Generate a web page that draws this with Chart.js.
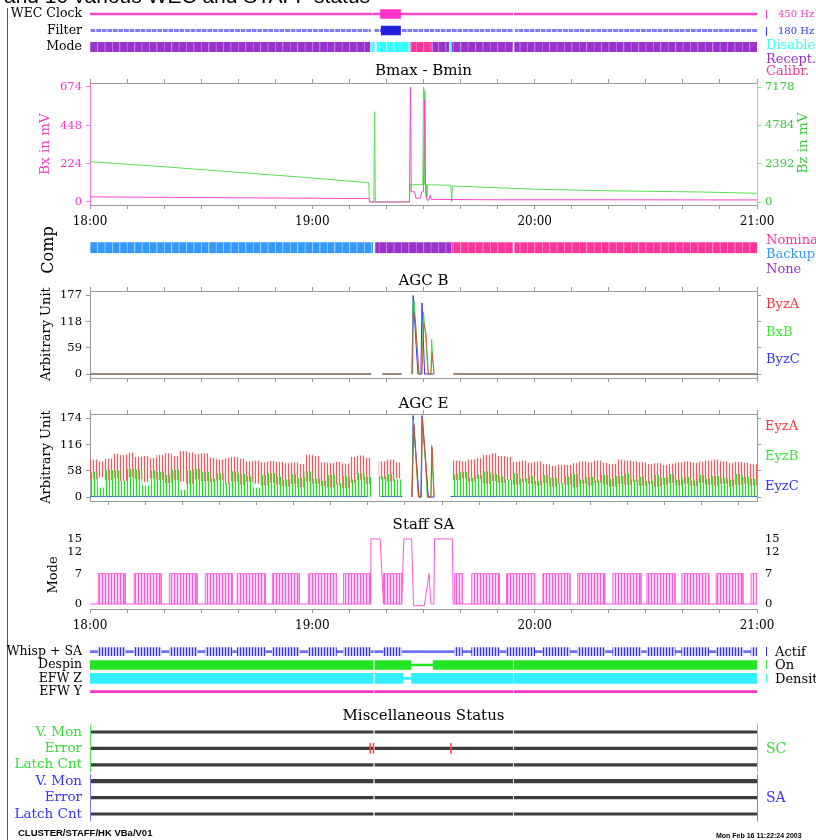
<!DOCTYPE html>
<html>
<head>
<meta charset="utf-8">
<title>STAFF HK</title>
<script src="https://cdn.jsdelivr.net/npm/chart.js@4.4.0/dist/chart.umd.min.js"></script>
<style>
  body { margin: 0; background: #fff; }
  #page { position: relative; width: 816px; height: 840px; overflow: hidden; background: #fff; }
  #page canvas { position: absolute; left: 0; }
  .lbl { position: absolute; white-space: nowrap; line-height: 1; font-family: "DejaVu Serif", serif; }
  #frame { position: absolute; left: 7px; top: 8px; width: 1px; height: 832px; background: #555; }
</style>
</head>
<body>
<div id="page">
  <div id="frame"></div>
  <canvas id="cTop" width="816" height="62" style="top:0px"></canvas>
  <canvas id="cBmax" width="816" height="165" style="top:70px"></canvas>
  <canvas id="cComp" width="816" height="24" style="top:236px"></canvas>
  <canvas id="cAgcB" width="816" height="105" style="top:281px"></canvas>
  <canvas id="cAgcE" width="816" height="105" style="top:404px"></canvas>
  <canvas id="cSA" width="816" height="116" style="top:523px"></canvas>
  <canvas id="cBot" width="816" height="64" style="top:640px"></canvas>
  <canvas id="cMisc" width="816" height="110" style="top:718px"></canvas>
</div>
<script>
const SERIF = '"DejaVu Serif", "Liberation Serif", serif';

// time axis: minutes after 18:00
const hourLabels = ['18:00', '19:00', '20:00', '21:00'];
const minorTicks = [0, 10, 20, 30, 40, 50, 60, 70, 80, 90, 100, 110, 120, 130, 140, 150, 160, 170, 180];

// WEC clock / filter / mode
const topRows = ['WEC Clock', 'Filter', 'Mode'];
const wecClockOn = [[0, 76.0], [76.3, 114.1], [114.5, 180]];
const wecClock450 = [[78.4, 83.8]];
const filterOn = [[0, 75.8], [76.6, 114.1], [114.5, 180]];
const filter180 = [[78.6, 83.8]];
const modeSegs = [[0, 75.7, 'Recept.'], [75.7, 76.8, 'Disable'], [77.3, 86.5, 'Disable'], [86.5, 92.4, 'Calibr.'],
  [92.4, 97.0, 'Recept.'], [97.0, 97.6, 'Disable'], [97.6, 114.1, 'Recept.'], [114.5, 180, 'Recept.']];

// Bmax - Bmin
const bxTicks = [0, 224, 448, 674];
const bzTicks = [0, 2392, 4784, 7178];
const bxData = [[0, 30], [15, 28], [30, 26], [45, 24], [60, 22], [75.4, 20], [75.6, 0], [86.2, 0], [86.5, 674], [86.7, 60],
  [87.6, 60], [87.9, 22], [89.2, 22], [89.5, 60], [90.0, 60], [90.3, 598], [90.6, 40], [91.0, 10], [91.5, 12], [91.8, 41],
  [92.1, 15], [110, 13], [140, 13], [180, 12]];
const bzData = [[0, 2515], [20, 2200], [40, 1850], [60, 1500], [75.2, 1200], [75.4, 0], [76.6, 0], [76.8, 5640], [77.0, 0],
  [86.2, 0], [86.4, 1080], [89.8, 1080], [90.0, 7178], [90.2, 6900], [90.4, 1080], [90.7, 1080], [90.9, 300], [91.1, 1080],
  [97.4, 1040], [97.6, 0], [97.8, 1000], [120, 800], [138, 706], [165, 624], [180, 543]];

// Comp
const compSegs = [[0, 76.4, 'Backup'], [76.9, 97.6, 'None'], [97.6, 114.1, 'Nominal'], [114.5, 180, 'Nominal']];

// AGC B
const agcBTicks = [0, 59, 118, 177];
const byzA = [[0, 0], [75.9, 0], [77, null], [78.9, 0], [84.1, 0], [85, null], [86.9, 0], [87.3, 140], [87.8, 120], [88.8, 0],
  [89.6, 0], [90.1, 115], [90.7, 90], [91.3, 0], [92.0, 0], [92.3, 47], [92.9, 0], [95, null], [98.1, 0], [180, 0]];
const bxB = [[0, 0], [75.9, 0], [77, null], [78.9, 0], [84.1, 0], [85, null], [86.9, 0], [87.1, 150], [87.5, 165], [88.7, 0],
  [89.5, 0], [90.0, 140], [90.6, 80], [91.2, 0], [92.0, 0], [92.2, 78], [92.8, 0], [95, null], [98.1, 0], [180, 0]];
const byzC = [[0, 0], [75.9, 0], [77, null], [78.9, 0], [84.1, 0], [85, null], [86.9, 0], [87.2, 177], [88.5, 0], [89.3, 0],
  [89.6, 160], [90.3, 0], [92.8, 0], [95, null], [98.1, 0], [180, 0]];

// AGC E (one value pair every 2 min: upper and lower end of the strokes)
const agcETicks = [0, 58, 116, 174];
const eyzATop = [82, 78, 84, 95, 92, 97, 88, 90, 85, 92, 96, 90, 101, 98, 94, 96, 86, 82, 85, 88,
  84, 78, 80, 76, 79, 77, 74, 76, 72, 93, 90, 76, 74, 77, 73, 88, 91, 86, null, 78,
  82, 76, null, null, null, null, null, null, null, 80, 78, 82, 85, 92, 96, 90, 88, 77, 80, 75,
  78, 72, 68, 71, 70, 74, 78, 76, 80, 75, 72, 82, 80, 78, 76, 72, 74, 70, 73, 76,
  78, 75, 77, 80, 82, 78, 74, 77, 75, 72];
const eyzALow = [40, 44, 38, 42, 36, 45, 40, 34, 42, 38, 32, 38, 35, 30, 40, 36, 33, 38, 30, 35,
  28, 34, 30, 26, 32, 28, 24, 30, 22, 35, 30, 25, 22, 28, 20, 32, 38, 30, null, 40,
  35, 42, null, null, null, null, null, null, null, 38, 42, 35, 40, 30, 36, 32, 38, 28, 34, 30,
  26, 32, 24, 30, 28, 22, 30, 26, 32, 28, 24, 30, 28, 34, 26, 30, 24, 28, 32, 26,
  30, 25, 32, 28, 26, 30, 24, 28, 30, 26];
const eyzBTop = [55, 20, 60, 58, 35, 62, 60, 25, 58, 55, 48, 60, 15, 58, 62, 55, 40, 52, 30, 56,
  50, 45, 20, 48, 52, 44, 38, 50, 42, 56, 40, 35, 48, 30, 45, 38, 52, 44, null, 45,
  50, 38, null, null, null, null, null, null, null, 50, 55, 42, 48, 56, 50, 45, 38, 52, 40, 46,
  35, 48, 42, 30, 45, 50, 38, 44, 36, 48, 40, 46, 52, 38, 44, 35, 48, 42, 50, 38,
  44, 36, 48, 40, 46, 42, 38, 50, 44, 40];
const eyzASpike = [[86.9, 0], [87.4, 160], [88.7, 0], [89.4, 0], [89.7, 174], [90.8, 60], [91.2, 0], [92.0, 0], [92.3, 110], [92.9, 0]];
const eyzBSpike = [[86.9, 0], [87.3, 170], [88.6, 0], [89.4, 0], [89.6, 174], [90.5, 80], [91.0, 0], [92.0, 0], [92.2, 115], [92.8, 0]];
const eyzC = [[0, 1], [75.1, 1], [76, null], [78.4, 1], [84.3, 1], [85, null], [86.9, 0], [87.2, 180], [88.8, 0], [89.3, 0],
  [89.6, 180], [91.3, 0], [92.9, 0], [95, null], [97.3, 1], [180, 1]];

// Staff SA mode
const saTicks = [0, 7, 12, 15];
const saBursts = [[2.2, 9.5], [11.9, 19.2], [21.4, 28.9], [31.1, 38.4], [39.7, 47.3], [49.2, 56.5], [58.9, 66.5], [68.4, 75.7],
  [79.2, 84.1], [98.4, 100.5], [103, 110.5], [112.4, 120], [122.2, 129.5], [131.6, 138.9], [141.1, 148.7], [150.3, 157.9],
  [159.7, 167], [169, 176.2], [178.4, 180]];
const saLevel = [[0, 0], [75.6, 0], [75.8, 15], [78.3, 15], [79.2, 0], [84.1, 0], [84.7, 15], [86.8, 15], [87.3, -0.4],
  [90.2, -0.4], [91.5, 7], [92.0, 0], [92.8, 0], [93.0, 15], [97.8, 15], [98.0, 0], [180, 0]];

// Whisp / Despin / EFW
const botRows = ['Whisp + SA', 'Despin', 'EFW Z', 'EFW Y'];
const whispOn = [[0, 76.4], [76.8, 114.1], [114.5, 180]];
const despinOn = [[0, 76.4], [76.9, 86.6], [92.6, 114.1], [114.5, 180]];
const despinOff = [[86.6, 92.6]];
const efwzDens = [[0, 76.4], [76.9, 84.4], [86.8, 114.1], [114.5, 180]];
const efwzOther = [[84.4, 86.8]];
const efwyOn = [[0, 76.4], [76.8, 114.1], [114.5, 180]];

// Miscellaneous status
const miscRows = ['V. Mon', 'Error', 'Latch Cnt', 'V. Mon', 'Error', 'Latch Cnt'];
const miscOn = [[0, 76.4], [76.9, 114.1], [114.5, 180]];
const scErrors = [75.6, 76.5, 97.4];

const modeColors = { 'Recept.': '#9933cc', 'Disable': '#33ffff', 'Calibr.': '#ff3399' };
const modeEdges = { 'Recept.': '#bb77dd', 'Disable': '#aaffff', 'Calibr.': '#ff88bb' };
const compColors = { 'Backup': '#3399ff', 'None': '#9933cc', 'Nominal': '#ff3399' };
const compEdges = { 'Backup': '#99ccff', 'None': '#bb77dd', 'Nominal': '#ff88c4' };

Chart.defaults.font.family = SERIF;
Chart.defaults.color = '#000';
Chart.defaults.animation = false;
Chart.defaults.responsive = false;
Chart.defaults.events = [];
Chart.defaults.plugins.legend.display = false;
Chart.defaults.plugins.tooltip.enabled = false;
Chart.defaults.elements.point.radius = 0;
Chart.defaults.elements.line.borderWidth = 1;

const pts = arr => arr.map(([x, y]) => ({ x, y }));

function stripes(lineColor, backColor, w, at) {
  const c = document.createElement('canvas');
  c.width = w; c.height = 2;
  const g = c.getContext('2d');
  g.fillStyle = backColor; g.fillRect(0, 0, w, 2);
  g.fillStyle = lineColor; g.fillRect(at || 0, 0, 1, 2);
  return g.createPattern(c, 'repeat');
}

// split state segments into small cells, like the original bar strips
function cells(segs, row, step) {
  const out = [];
  segs.forEach(([a, b, s]) => {
    let t = a;
    while (t < b - 1e-6) {
      const n = Math.min(b, (Math.floor(t / step + 1e-6) + 1) * step);
      out.push({ x: [t, n], y: row, s });
      t = n;
    }
  });
  return out;
}

const rowBars = (segs, row) => segs.map(([a, b]) => ({ x: [a, b], y: row }));

// vertical strokes band for every 2-minute sample
function bands(top, low) {
  const out = [];
  top.forEach((v, i) => {
    if (v === null) return;
    out.push({ x: i * 2 + 1, y: [Array.isArray(low) ? low[i] : low, v] });
  });
  return out;
}

function bar(data, color, thick, extra) {
  return Object.assign({ type: 'bar', data, backgroundColor: color, barThickness: thick, grouped: false,
    borderWidth: 0, borderSkipped: false }, extra || {});
}

function line(data, color, yAxisID, extra) {
  return Object.assign({ type: 'line', data: pts(data), borderColor: color, yAxisID: yAxisID || 'y', tension: 0 }, extra || {});
}

const noPad = s => { s.paddingTop = 0; s.paddingBottom = 0; };

function xAxis(position, size, labels, border) {
  return {
    type: 'linear', position, min: 0, max: 180, offset: false,
    afterBuildTicks: s => { s.ticks = minorTicks.map(v => ({ value: v })); },
    afterFit: s => { s.height = size; s.paddingLeft = 0; s.paddingRight = 0; },
    grid: { drawOnChartArea: false, tickLength: 4, color: '#999' },
    border: { display: border !== false, color: '#999' },
    ticks: { display: labels, autoSkip: false, maxRotation: 0, padding: 6, font: { size: 12 },
      callback: v => (v % 60 === 0 ? hourLabels[v / 60] : '') }
  };
}

function yAxis(position, min, max, ticks, color, labels, edge, width, plain) {
  return {
    type: 'linear', position, min, max,
    afterBuildTicks: s => { s.ticks = ticks.map(v => ({ value: v })); },
    afterFit: s => { s.width = width; noPad(s); },
    grid: plain ? { display: false, drawTicks: false } : { drawOnChartArea: false, tickLength: 4, color: edge },
    border: { display: !plain, color: edge },
    ticks: { display: labels, autoSkip: false, color, padding: plain ? 8 : 4, font: { size: 11.5 }, callback: v => String(v) }
  };
}

function rowAxis(rows, color, size) {
  return {
    type: 'linear', min: -0.5, max: rows.length - 0.5, reverse: true, offset: false,
    afterBuildTicks: s => { s.ticks = rows.map((r, i) => ({ value: i })); },
    afterFit: s => { s.width = 90; noPad(s); },
    grid: { display: false, drawTicks: false },
    border: { display: false },
    ticks: { color, autoSkip: false, padding: 8, font: { size }, callback: v => rows[v] }
  };
}

function statusChart(id, rows, datasets, padTop, padBottom, color, size, plugins, pluginOpts) {
  return new Chart(document.getElementById(id), {
    type: 'bar',
    data: { datasets },
    plugins: plugins || [],
    options: {
      indexAxis: 'y',
      layout: { padding: { top: padTop, bottom: padBottom, left: 0, right: 59 } },
      plugins: pluginOpts || {},
      scales: {
        x: { type: 'linear', min: 0, max: 180, display: false },
        y: rowAxis(rows, color, size)
      }
    }
  });
}

// ---- WEC Clock / Filter / Mode
statusChart('cTop', topRows, [
  bar(rowBars(wecClock450, 0), '#ff33cc', 9, { order: 0 }),
  bar(rowBars(filter180, 1), '#2222dd', 9, { order: 0 }),
  bar(rowBars(wecClockOn, 0), '#ff44cc', 2, { order: 1 }),
  bar(cells(filterOn.map(s => [s[0], s[1], '']), 1, 1.5), '#7b7bff', 3,
    { order: 1, borderColor: '#ffffff', borderWidth: { left: 1, right: 0, top: 0, bottom: 0 } }),
  bar(cells(modeSegs, 2, 2), ctx => modeColors[ctx.raw.s], 10,
    { order: 1, borderColor: ctx => modeEdges[ctx.raw.s], borderWidth: { left: 1, right: 0, top: 0, bottom: 0 } })
], 5.75, 6.75, '#000', 12.5);

// ---- Bmax - Bmin
new Chart(document.getElementById('cBmax'), {
  type: 'line',
  data: { datasets: [line(bxData, '#ff44cc', 'yL'), line(bzData, '#55e055', 'yR')] },
  options: {
    scales: {
      x: xAxis('bottom', 30, true),
      x2: xAxis('top', 13, false),
      yL: yAxis('left', -17.6, 697.4, bxTicks, '#ff33cc', true, '#ff77dd', 90),
      yR: yAxis('right', -187, 7428, bzTicks, '#33cc33', true, '#77ee77', 59)
    }
  }
});

// ---- Comp
statusChart('cComp', [''], [
  bar(cells(compSegs, 0, 2), ctx => compColors[ctx.raw.s], 11,
    { borderColor: ctx => compEdges[ctx.raw.s], borderWidth: { left: 1, right: 0, top: 0, bottom: 0 } })
], 5.5, 6, '#000', 12);

// ---- AGC B
new Chart(document.getElementById('cAgcB'), {
  type: 'line',
  data: { datasets: [
    line(byzA, 'rgba(240,50,50,0.75)'),
    line(bxB, 'rgba(40,225,40,0.85)'),
    line(byzC, '#3333ff')
  ] },
  options: {
    scales: {
      x: xAxis('bottom', 8, false),
      x2: xAxis('top', 10, false),
      y: yAxis('left', -9, 187, agcBTicks, '#000', true, '#999', 90),
      y2: yAxis('right', -9, 187, agcBTicks, '#000', false, '#999', 59)
    }
  }
});

// ---- AGC E
new Chart(document.getElementById('cAgcE'), {
  type: 'line',
  data: { datasets: [
    line(eyzASpike, 'rgba(230,60,40,0.9)'),
    line(eyzBSpike, 'rgba(40,220,40,0.9)'),
    bar(bands(eyzBTop, 0), stripes('#22e022', 'rgba(150,245,150,0.25)', 3, 1), 7.41),
    bar(bands(eyzATop, eyzALow), stripes('rgba(255,60,60,0.85)', 'rgba(255,200,200,0.3)', 3, 0), 7.41),
    line(eyzC, '#3333ff')
  ] },
  options: {
    scales: {
      x: xAxis('bottom', 8, false),
      x2: xAxis('top', 10, false),
      y: yAxis('left', -8.8, 183.5, agcETicks, '#000', true, '#999', 90),
      y2: yAxis('right', -8.8, 183.5, agcETicks, '#000', false, '#999', 59)
    }
  }
});

// ---- Staff SA
const burstOutline = [];
saBursts.forEach(([a, b]) => burstOutline.push([a, 0], [a, 7], [b, 7], [b, 0], [b + 0.01, null]));
new Chart(document.getElementById('cSA'), {
  type: 'line',
  data: { datasets: [
    line(saLevel, '#ff55dd'),
    line(burstOutline, '#ff66dd', 'y', { fill: 'origin', backgroundColor: stripes('#ff55dd', '#ffd4f4', 3) })
  ] },
  options: {
    layout: { padding: { top: 12 } },
    scales: {
      x: xAxis('bottom', 30, true),
      y: yAxis('left', -1.15, 15.9, saTicks, '#000', true, '#999', 90, true),
      y2: yAxis('right', -1.15, 15.9, saTicks, '#000', true, '#999', 59, true)
    }
  }
});

// ---- Whisp + SA / Despin / EFW
statusChart('cBot', botRows, [
  bar(rowBars(saBursts, 0), stripes('#3030ff', '#c8c8ff', 3), 8, { order: 0 }),
  bar(rowBars(whispOn, 0), '#7070ff', 2, { order: 1 }),
  bar(rowBars(despinOn, 1), '#22e622', 9, { order: 1 }),
  bar(rowBars(despinOff, 1), '#22e622', 2, { order: 1 }),
  bar(rowBars(efwzDens, 2), '#33eeff', 10, { order: 1 }),
  bar(rowBars(efwzOther, 2), '#33eeff', 2, { order: 1 }),
  bar(rowBars(efwyOn, 3), '#ff33cc', 2, { order: 1 })
], 5, 5.7, '#000', 12.5);

// ---- Miscellaneous status
const sideBars = {
  id: 'sideBars',
  afterDatasetsDraw(chart, args, opts) {
    const { ctx, chartArea: a, scales: { y } } = chart;
    opts.groups.forEach(g => {
      const y0 = y.getPixelForValue(g.from - 0.45), y1 = y.getPixelForValue(g.to + 0.45);
      ctx.save();
      ctx.strokeStyle = g.color; ctx.lineWidth = 1;
      [a.left, a.right].forEach(x => {
        ctx.beginPath(); ctx.moveTo(Math.round(x) + 0.5, y0); ctx.lineTo(Math.round(x) + 0.5, y1); ctx.stroke();
      });
      ctx.restore();
    });
  }
};
const miscLines = [];
miscRows.forEach((r, i) => miscLines.push(bar(rowBars(miscOn, i), '#3c3c3c', i === 3 ? 3.5 : 2.5, { order: 1 })));
statusChart('cMisc', miscRows, [
  bar(scErrors.map(t => ({ x: [t - 0.12, t + 0.12], y: 1 })), '#ff4444', 10, { order: 0 })
].concat(miscLines), 5.8, 5.8, ctx => (ctx.index < 3 ? '#33dd33' : '#3333ff'), 13.5,
  [sideBars], { sideBars: { groups: [{ from: 0, to: 2, color: '#55ee55' }, { from: 3, to: 5, color: '#7777ff' }] } });

// ---- text around the panels
const labels = [
  // text, x, y, colour, size, align, rotate, family, weight
  ['Bmax - Bmin', 423.5, 70, '#000', 15, 'c'],
  ['AGC B', 423.5, 280, '#000', 15, 'c'],
  ['AGC E', 423.5, 403, '#000', 15, 'c'],
  ['Staff SA', 423.5, 524, '#000', 15, 'c'],
  ['Miscellaneous Status', 423.5, 715, '#000', 15, 'c'],
  ['Bx in mV', 45, 144, '#ff33cc', 13.5, 'c', -90],
  ['Bz in mV', 803, 143, '#33cc33', 13.5, 'c', -90],
  ['Comp', 48, 250, '#000', 16, 'c', -90],
  ['Arbitrary Unit', 45, 334, '#000', 13, 'c', -90],
  ['Arbitrary Unit', 45, 457, '#000', 13, 'c', -90],
  ['Mode', 52, 575, '#000', 13, 'c', -90],
  ['450 Hz', 778, 14, '#ff33cc', 10, 'l'],
  ['180 Hz', 778, 31, '#3333ff', 10, 'l'],
  ['Disable', 766, 44, '#33ffff', 13, 'l'],
  ['Recept.', 766, 58, '#9933cc', 13, 'l'],
  ['Calibr.', 766, 70, '#ff3399', 13, 'l'],
  ['Nominal', 766, 239, '#ff3399', 13, 'l'],
  ['Backup', 766, 253, '#3399ff', 13, 'l'],
  ['None', 766, 268, '#9933cc', 13, 'l'],
  ['ByzA', 766, 303, '#ff3333', 13, 'l'],
  ['BxB', 766, 331, '#33ee33', 13, 'l'],
  ['ByzC', 766, 358, '#3333ff', 13, 'l'],
  ['EyzA', 765, 425, '#ff3333', 13, 'l'],
  ['EyzB', 765, 455, '#33ee33', 13, 'l'],
  ['EyzC', 765, 485, '#3333ff', 13, 'l'],
  ['Actif', 775, 651, '#000', 13, 'l'],
  ['On', 775, 664, '#000', 13, 'l'],
  ['Density', 775, 678, '#000', 13, 'l'],
  ['SC', 766, 748, '#33dd33', 14, 'l'],
  ['SA', 766, 797, '#3333ff', 14, 'l'],
  ['and 10 various WEC and STAFF status', 4, -5, '#000', 21, 'l', 0, '"Liberation Sans", sans-serif'],
  ['CLUSTER/STAFF/HK  VBa/V01', 18, 833, '#000', 9.5, 'l', 0, '"Liberation Sans", sans-serif', 'bold'],
  ['Mon Feb 16 11:22:24 2003', 716, 835, '#000', 7, 'l', 0, '"Liberation Sans", sans-serif', 'bold']
];
const marks = [[766, 14, '#ff33cc'], [766, 31, '#3333ff'], [766, 651, '#3333ff'], [766, 664, '#33ee33'], [766, 678, '#33ffff']];

const page = document.getElementById('page');
labels.forEach(([text, x, y, color, size, align, rot, family, weight]) => {
  const d = document.createElement('div');
  d.className = 'lbl';
  d.textContent = text;
  d.style.left = x + 'px';
  d.style.top = y + 'px';
  d.style.color = color;
  d.style.fontSize = size + 'px';
  if (family) d.style.fontFamily = family;
  if (weight) d.style.fontWeight = weight;
  const tx = align === 'c' ? '-50%' : '0';
  d.style.transform = 'translate(' + tx + ', -50%)' + (rot ? ' rotate(' + rot + 'deg)' : '');
  page.appendChild(d);
});
marks.forEach(([x, y, color]) => {
  const d = document.createElement('div');
  d.style.cssText = 'position:absolute;width:1px;height:9px;left:' + x + 'px;top:' + (y - 4.5) + 'px;background:' + color;
  page.appendChild(d);
});
</script>
</body>
</html>
